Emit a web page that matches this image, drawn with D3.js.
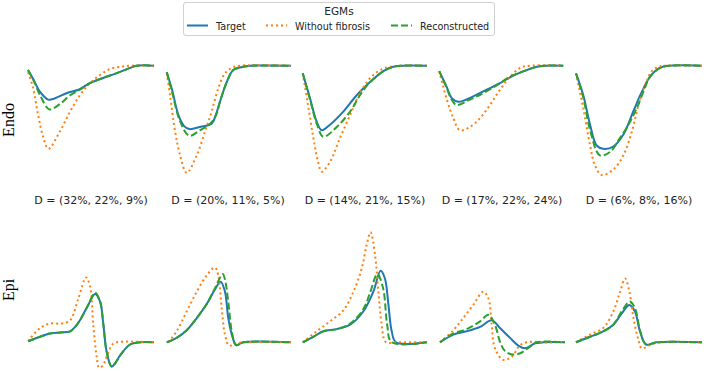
<!DOCTYPE html>
<html>
<head>
<meta charset="utf-8">
<script src="https://cdn.jsdelivr.net/npm/d3@7"></script>
<style>
  body { margin: 0; background: #fff; }
  svg { display: block; font-family: "DejaVu Sans", sans-serif; }
</style>
</head>
<body>
<div id="chart"></div>
<script>
// Row and column labels
const rowNames = ["Endo", "Epi"];
const distances = [
  "D = (32%, 22%, 9%)", "D = (20%, 11%, 5%)", "D = (14%, 21%, 15%)",
  "D = (17%, 22%, 24%)", "D = (6%, 8%, 16%)"
];
const seriesNames = ["Target", "Without fibrosis", "Reconstructed"];

// EGM traces, [time (ms), amplitude (normalised)] for each of the 5 columns
const endoTarget = [
  [[0,-0.04],[20,-0.12],[48,-0.24],[80,-0.31],[105,-0.30],[155,-0.25],[200,-0.22],[245,-0.16],[300,-0.11],[350,-0.07],[405,-0.02],[430,0],[500,0]],
  [[7,-0.06],[28,-0.22],[53,-0.45],[75,-0.55],[96,-0.58],[139,-0.56],[185,-0.53],[203,-0.44],[218,-0.33],[245,-0.15],[271,-0.04],[311,-0.01],[340,0],[500,0]],
  [[3,-0.07],[32,-0.30],[58,-0.51],[78,-0.59],[111,-0.54],[164,-0.42],[217,-0.27],[270,-0.15],[323,-0.05],[362,-0.01],[400,0],[495,0]],
  [[1,-0.05],[28,-0.18],[52,-0.30],[77,-0.33],[136,-0.28],[189,-0.22],[242,-0.16],[295,-0.09],[348,-0.04],[388,-0.01],[420,0],[493,0]],
  [[0,-0.07],[29,-0.27],[56,-0.54],[82,-0.73],[108,-0.76],[148,-0.74],[188,-0.63],[227,-0.42],[261,-0.24],[294,-0.10],[333,-0.02],[373,0],[499,0]]
];
const endoNoFibrosis = [
  [[0,-0.06],[20,-0.20],[40,-0.45],[60,-0.65],[81,-0.76],[127,-0.60],[167,-0.42],[206,-0.27],[246,-0.16],[286,-0.085],[325,-0.03],[365,-0.01],[405,0],[500,0]],
  [[7,-0.07],[20,-0.27],[40,-0.60],[60,-0.82],[86,-0.98],[126,-0.82],[159,-0.60],[185,-0.42],[211,-0.21],[238,-0.07],[265,-0.02],[298,0],[500,0]],
  [[3,-0.07],[24,-0.36],[45,-0.66],[64,-0.88],[78,-0.97],[111,-0.88],[151,-0.66],[191,-0.45],[230,-0.25],[270,-0.115],[310,-0.04],[349,-0.01],[389,0],[495,0]],
  [[1,-0.05],[30,-0.30],[57,-0.48],[83,-0.59],[123,-0.56],[163,-0.48],[202,-0.36],[242,-0.22],[282,-0.10],[322,-0.02],[361,0],[493,0]],
  [[0,-0.07],[29,-0.39],[56,-0.73],[75,-0.91],[102,-1.0],[148,-0.95],[188,-0.82],[222,-0.60],[248,-0.36],[274,-0.18],[301,-0.05],[327,-0.01],[353,0],[499,0]]
];
const endoReconstructed = [
  [[0,-0.04],[21,-0.13],[48,-0.27],[85,-0.40],[127,-0.35],[167,-0.27],[206,-0.22],[246,-0.16],[300,-0.11],[350,-0.07],[405,-0.02],[430,0],[500,0]],
  [[7,-0.06],[28,-0.24],[60,-0.51],[96,-0.64],[139,-0.59],[179,-0.53],[203,-0.45],[218,-0.33],[245,-0.15],[271,-0.04],[311,-0.01],[340,0],[500,0]],
  [[3,-0.07],[32,-0.31],[60,-0.54],[85,-0.65],[138,-0.56],[191,-0.42],[230,-0.27],[270,-0.15],[323,-0.05],[362,-0.01],[400,0],[495,0]],
  [[1,-0.05],[28,-0.19],[50,-0.31],[70,-0.36],[123,-0.31],[176,-0.25],[229,-0.18],[282,-0.10],[348,-0.04],[388,-0.01],[420,0],[493,0]],
  [[0,-0.07],[29,-0.29],[56,-0.59],[95,-0.82],[135,-0.79],[175,-0.66],[208,-0.54],[241,-0.39],[274,-0.20],[294,-0.10],[333,-0.02],[373,0],[499,0]]
];
const epiTarget = [
  [[1,0.01],[48,0.05],[87,0.08],[127,0.09],[167,0.10],[187,0.14],[206,0.20],[239,0.34],[266,0.44],[286,0.37],[299,0.16],[312,-0.085],[332,-0.22],[349,-0.18],[365,-0.12],[405,-0.02],[445,0],[500,0]],
  [[7,0],[46,0.04],[86,0.11],[126,0.22],[166,0.35],[198,0.48],[221,0.55],[238,0.46],[251,0.22],[269,0.04],[282,-0.025],[311,0],[500,0]],
  [[3,0],[45,0.05],[85,0.10],[138,0.12],[191,0.16],[243,0.28],[283,0.46],[312,0.65],[329,0.58],[343,0.34],[356,0.10],[373,0],[495,0]],
  [[4,0],[57,0.07],[110,0.10],[163,0.14],[209,0.20],[242,0.13],[282,0.04],[315,-0.03],[341,-0.055],[381,-0.01],[414,0],[500,0]],
  [[0,0],[56,0.05],[108,0.10],[148,0.16],[181,0.26],[212,0.34],[234,0.28],[254,0.10],[278,-0.02],[320,0],[500,0]]
];
const epiNoFibrosis = [
  [[0,0.01],[48,0.13],[87,0.17],[134,0.17],[167,0.20],[200,0.40],[230,0.59],[246,0.51],[259,0.16],[273,-0.14],[282,-0.23],[298,-0.21],[312,-0.13],[339,-0.01],[378,0.005],[500,0]],
  [[13,0],[46,0.10],[86,0.28],[126,0.46],[166,0.61],[198,0.68],[211,0.61],[225,0.31],[238,0.07],[255,-0.03],[278,-0.01],[318,0],[500,0]],
  [[3,0],[58,0.10],[111,0.19],[164,0.29],[204,0.46],[237,0.67],[256,0.88],[272,1.0],[290,0.79],[303,0.46],[316,0.16],[329,0.01],[341,-0.005],[370,0],[495,0]],
  [[4,0],[57,0.11],[96,0.22],[136,0.34],[176,0.46],[196,0.40],[209,0.16],[222,-0.055],[255,-0.16],[289,-0.13],[322,-0.025],[361,0.005],[400,0],[500,0]],
  [[0,0],[56,0.07],[108,0.13],[148,0.28],[175,0.46],[195,0.58],[212,0.46],[228,0.22],[248,0.02],[261,-0.055],[294,-0.025],[333,0],[500,0]]
];
const epiReconstructed = [
  [[1,0.01],[48,0.05],[87,0.08],[127,0.09],[167,0.10],[187,0.14],[206,0.20],[239,0.34],[266,0.45],[286,0.37],[299,0.16],[312,-0.085],[332,-0.22],[349,-0.18],[365,-0.12],[405,-0.02],[445,0],[500,0]],
  [[7,0],[46,0.04],[86,0.11],[126,0.22],[166,0.35],[198,0.49],[229,0.62],[238,0.57],[251,0.37],[265,0.10],[282,-0.025],[311,0],[500,0]],
  [[3,0],[45,0.05],[85,0.10],[138,0.12],[191,0.17],[243,0.30],[270,0.45],[299,0.62],[322,0.49],[338,0.16],[356,0],[495,0]],
  [[4,0],[57,0.08],[110,0.12],[163,0.19],[196,0.25],[222,0.16],[242,0.005],[262,-0.08],[289,-0.11],[322,-0.10],[361,-0.04],[388,0],[500,0]],
  [[0,0],[56,0.05],[108,0.10],[148,0.16],[181,0.28],[214,0.37],[234,0.31],[254,0.11],[278,-0.02],[320,0],[500,0]]
];

const width = 704, height = 371;
const colors = ["#1f77b4", "#ff7f0e", "#2ca02c"];
const dashes = [null, "2,3", "7,3"];

const svg = d3.select("#chart").append("svg")
  .attr("width", width)
  .attr("height", height);

svg.append("rect").attr("width", width).attr("height", height).attr("fill", "#fff");

// columns
const col = d3.scaleBand()
  .domain(d3.range(5))
  .range([28, 702])
  .paddingInner(0.08);

const x = d3.scaleLinear().domain([0, 500]).range([0, col.bandwidth()]);

const rows = [
  { name: rowNames[0], y: d3.scaleLinear().domain([-1, 0]).range([175, 65.7]),
    series: [endoTarget, endoNoFibrosis, endoReconstructed], labelY: 120 },
  { name: rowNames[1], y: d3.scaleLinear().domain([0, 1]).range([342.3, 232.3]),
    series: [epiTarget, epiNoFibrosis, epiReconstructed], labelY: 290 }
];

rows.forEach(function(row) {
  const line = d3.line()
    .x(function(d) { return x(d[0]); })
    .y(function(d) { return row.y(d[1]); })
    .curve(d3.curveCatmullRom.alpha(0.5));

  for (let c = 0; c < 5; c++) {
    const g = svg.append("g").attr("transform", "translate(" + col(c) + ",0)");
    row.series.forEach(function(s, k) {
      g.append("path")
        .datum(s[c])
        .attr("d", line)
        .attr("fill", "none")
        .attr("stroke", colors[k])
        .attr("stroke-width", 2)
        .attr("stroke-dasharray", dashes[k]);
    });
  }

  svg.append("text")
    .attr("transform", "translate(13.5," + row.labelY + ") rotate(-90)")
    .attr("text-anchor", "middle")
    .attr("font-family", "'Liberation Serif', 'DejaVu Serif', serif")
    .attr("font-size", "16px")
    .attr("fill", "#000")
    .text(row.name);
});

// D values under the Endo row
distances.forEach(function(t, c) {
  svg.append("text")
    .attr("x", col(c) + col.bandwidth() / 2)
    .attr("y", 204)
    .attr("text-anchor", "middle")
    .attr("font-size", "11px")
    .attr("fill", "#222")
    .text(t);
});

// Legend
const legend = svg.append("g");
legend.append("rect")
  .attr("x", 183.5).attr("y", 2.5)
  .attr("width", 311).attr("height", 33)
  .attr("rx", 2.5)
  .attr("fill", "#fff")
  .attr("stroke", "#d0d0d0");
legend.append("text")
  .attr("x", 339).attr("y", 15)
  .attr("text-anchor", "middle")
  .attr("font-size", "10.5px")
  .attr("fill", "#222")
  .text("EGMs");

const handleX = [187, 266, 391];
seriesNames.forEach(function(name, k) {
  legend.append("line")
    .attr("x1", handleX[k]).attr("x2", handleX[k] + 21)
    .attr("y1", 25.5).attr("y2", 25.5)
    .attr("stroke", colors[k])
    .attr("stroke-width", 2)
    .attr("stroke-dasharray", dashes[k]);
  legend.append("text")
    .attr("x", handleX[k] + 29).attr("y", 29.5)
    .attr("font-size", "9.6px")
    .attr("fill", "#222")
    .text(name);
});
</script>
</body>
</html>
